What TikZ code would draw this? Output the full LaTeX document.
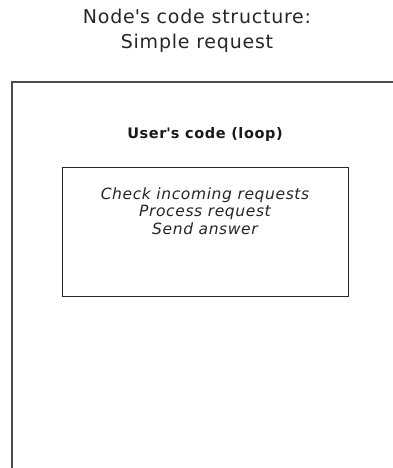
\documentclass[tikz,border=0pt]{standalone}
\usepackage{fontspec}
\setmainfont{DejaVu Sans}
\usetikzlibrary{positioning}

\begin{document}
\begin{tikzpicture}[
  x=1pt, y=1pt,
  title/.style={font=\fontsize{19}{25}\selectfont\addfontfeature{LetterSpace=4}, text=black!85, align=center, inner sep=0pt},
  head/.style={font=\bfseries\fontsize{14.5}{18}\selectfont\addfontfeature{LetterSpace=4}, text=black!90, inner sep=0pt},
  codebox/.style={draw=black!85, line width=1pt, minimum width=286pt, minimum height=129pt, inner sep=0pt},
  tasks/.style={font=\itshape\fontsize{15.5}{17.5}\selectfont\addfontfeature{LetterSpace=4}, text=black!85, align=center, inner sep=0pt},
  frame/.style={draw=black!70, line width=2pt},
]
  \useasboundingbox (0,0) rectangle (392,-468);

  % title above the node frame
  \node[title] (title) at (197,-31) {Node\textquotesingle s code structure:\\Simple request};

  % node frame, open to the right and below
  \coordinate (framebl) at (12,-470);
  \coordinate (frametl) at (12,-82);
  \coordinate (frametr) at (394,-82);
  \draw[frame] (framebl) -- (frametl) -- (frametr);

  \node[head] (user) at (205,-134) {User\textquotesingle s code (loop)};

  \node[codebox] (loopbox) at (205,-231.5) {};
  \node[tasks, below=21pt of loopbox.north] (steps) {Check incoming requests\\Process request\\Send answer};
\end{tikzpicture}
\end{document}
